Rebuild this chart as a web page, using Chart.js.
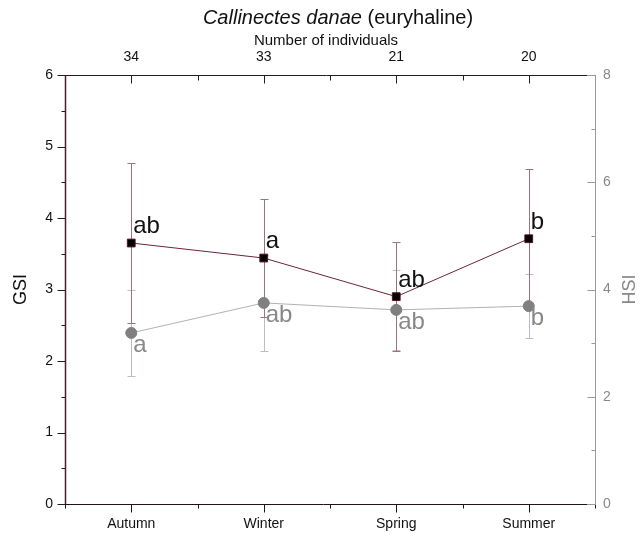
<!DOCTYPE html>
<html><head><meta charset="utf-8">
<script src="https://cdn.jsdelivr.net/npm/chart.js@4.4.1/dist/chart.umd.min.js"></script>
<style>html,body{margin:0;padding:0;background:#fff}#wrap{width:644px;height:540px}</style>
</head><body><div id="wrap"><canvas id="c" width="644" height="540"></canvas></div>
<script>
const seasons = ['Autumn', 'Winter', 'Spring', 'Summer'];
const nIndividuals = ['34', '33', '21', '20'];
const gsi = [3.65, 3.44, 2.90, 3.71];
const gsiErr = [1.12, 0.83, 0.76, 0.97];
const hsi = [3.19, 3.75, 3.62, 3.69];
const hsiErr = [0.80, 0.90, 0.75, 0.60];
const gsiLetters = ['ab', 'a', 'ab', 'b'];
const hsiLetters = ['a', 'ab', 'ab', 'b'];
const gsiTicks = [0, 1, 2, 3, 4, 5, 6];
const hsiTicks = [0, 2, 4, 6, 8];

const FONT = "'Liberation Sans', Arial, sans-serif";
const catTicks = seasons.map((s, i) => ({ value: i + 1 }));

const overlay = {
  id: 'overlay',
  beforeDatasetsDraw(chart) {
    const { ctx, scales } = chart;
    const xs = scales.x;
    ctx.save();
    function bar(xv, lo, hi, scale, color) {
      const px = Math.round(xs.getPixelForValue(xv)) + 0.5;
      const a = Math.round(scale.getPixelForValue(lo)) + 0.5;
      const b = Math.round(scale.getPixelForValue(hi)) + 0.5;
      ctx.strokeStyle = color; ctx.lineWidth = 1;
      ctx.beginPath();
      ctx.moveTo(px, a); ctx.lineTo(px, b);
      ctx.moveTo(px - 4, a); ctx.lineTo(px + 4, a);
      ctx.moveTo(px - 4, b); ctx.lineTo(px + 4, b);
      ctx.stroke();
    }
    hsi.forEach((v, i) => bar(i + 1, v - hsiErr[i], v + hsiErr[i], scales.y2, '#c4b8c8'));
    gsi.forEach((v, i) => bar(i + 1, v - gsiErr[i], v + gsiErr[i], scales.y, '#a07080'));
    ctx.restore();
  },
  afterDatasetsDraw(chart) {
    const { ctx, scales } = chart;
    ctx.save();
    ctx.font = '24px ' + FONT;
    ctx.textAlign = 'left';
    ctx.textBaseline = 'alphabetic';
    gsi.forEach((v, i) => {
      ctx.fillStyle = '#111';
      ctx.fillText(gsiLetters[i], scales.x.getPixelForValue(i + 1) + 2, scales.y.getPixelForValue(v) - 10);
    });
    hsi.forEach((v, i) => {
      ctx.fillStyle = '#888';
      ctx.fillText(hsiLetters[i], scales.x.getPixelForValue(i + 1) + 2, scales.y2.getPixelForValue(v) + 19);
    });
    ctx.restore();
  },
  afterDraw(chart) {
    const { ctx, chartArea: ca, scales } = chart;
    const L = ca.left + 0.5, R = ca.right + 0.5, T = ca.top + 0.5, B = ca.bottom + 0.5;
    ctx.save();
    ctx.lineWidth = 1;
    // top axis
    ctx.strokeStyle = '#2a1a1e';
    ctx.beginPath(); ctx.moveTo(L, T); ctx.lineTo(R - 8, T); ctx.stroke();
    ctx.strokeStyle = '#999';
    ctx.beginPath(); ctx.moveTo(R - 8, T); ctx.lineTo(R, T); ctx.stroke();
    ctx.strokeStyle = '#2a1a1e';
    ctx.beginPath();
    for (let v = 0.5; v <= 4.5; v += 0.5) {
      const px = Math.round(scales.x2.getPixelForValue(v)) + 0.5;
      const len = Number.isInteger(v) ? 8 : 5;
      ctx.moveTo(px, T); ctx.lineTo(px, T + len);
    }
    ctx.stroke();
    // bottom axis
    ctx.strokeStyle = '#1e1418';
    ctx.beginPath(); ctx.moveTo(L - 6, B); ctx.lineTo(R - 8, B); ctx.stroke();
    ctx.beginPath();
    for (let v = 0.5; v <= 4.5; v += 0.5) {
      const px = Math.round(scales.x.getPixelForValue(v)) + 0.5;
      const len = Number.isInteger(v) ? 8 : 4;
      ctx.moveTo(px, B); ctx.lineTo(px, B + len);
    }
    ctx.stroke();
    ctx.strokeStyle = '#999';
    ctx.beginPath(); ctx.moveTo(R - 8, B); ctx.lineTo(R, B); ctx.stroke();
    // left axis
    ctx.strokeStyle = '#4a1e2a';
    ctx.lineWidth = 1.5;
    ctx.beginPath(); ctx.moveTo(L, T); ctx.lineTo(L, B); ctx.stroke();
    ctx.lineWidth = 1;
    ctx.strokeStyle = '#2a1a1e';
    ctx.beginPath();
    for (let v = 0; v <= 6; v += 0.5) {
      const py = Math.round(scales.y.getPixelForValue(v)) + 0.5;
      const len = Number.isInteger(v) ? 8 : 4;
      ctx.moveTo(L - len, py); ctx.lineTo(L, py);
    }
    ctx.stroke();
    // right axis
    ctx.strokeStyle = '#999';
    ctx.beginPath(); ctx.moveTo(R, T); ctx.lineTo(R, B); ctx.stroke();
    ctx.beginPath();
    for (let v = 0; v <= 8; v += 1) {
      const py = Math.round(scales.y2.getPixelForValue(v)) + 0.5;
      const len = v % 2 === 0 ? 8 : 4;
      ctx.moveTo(R - len, py); ctx.lineTo(R, py);
    }
    ctx.stroke();
    // titles
    const cx = (ca.left + ca.right) / 2 + 8;
    ctx.fillStyle = '#111';
    ctx.textBaseline = 'middle';
    const t1 = 'Callinectes danae', t2 = ' (euryhaline)';
    ctx.font = 'italic 20px ' + FONT;
    const w1 = ctx.measureText(t1).width;
    ctx.font = '20px ' + FONT;
    const w2 = ctx.measureText(t2).width;
    const x0 = cx - (w1 + w2) / 2;
    ctx.textAlign = 'left';
    ctx.font = 'italic 20px ' + FONT;
    ctx.fillText(t1, x0, 18);
    ctx.font = '20px ' + FONT;
    ctx.fillText(t2, x0 + w1, 18);
    ctx.textAlign = 'center';
    ctx.font = '15px ' + FONT;
    ctx.fillText('Number of individuals', (ca.left + ca.right) / 2 - 4, 41);
    // GSI
    ctx.save();
    ctx.translate(21, (ca.top + ca.bottom) / 2);
    ctx.rotate(-Math.PI / 2);
    ctx.font = '18px ' + FONT;
    ctx.fillStyle = '#111';
    ctx.fillText('GSI', 0, 0);
    ctx.restore();
    // HSI
    ctx.save();
    ctx.translate(630, (ca.top + ca.bottom) / 2);
    ctx.rotate(-Math.PI / 2);
    ctx.font = '18px ' + FONT;
    ctx.fillStyle = '#888';
    ctx.fillText('HSI', 0, 0);
    ctx.restore();
    ctx.restore();
  }
};

const hidden = { display: false, drawTicks: false };
new Chart(document.getElementById('c'), {
  type: 'scatter',
  data: {
    datasets: [
      {
        label: 'GSI',
        data: seasons.map((s, i) => ({ x: i + 1, y: gsi[i] })),
        xAxisID: 'x', yAxisID: 'y',
        showLine: true,
        borderColor: '#6b2437', borderWidth: 1,
        pointStyle: 'rect', pointRadius: 5.5,
        pointBackgroundColor: '#000', pointBorderColor: '#5a1020', pointBorderWidth: 1
      },
      {
        label: 'HSI',
        data: seasons.map((s, i) => ({ x: i + 1, y: hsi[i] })),
        xAxisID: 'x', yAxisID: 'y2',
        showLine: true,
        borderColor: '#b4b0b4', borderWidth: 1,
        pointStyle: 'circle', pointRadius: 5.5,
        pointBackgroundColor: '#808080', pointBorderColor: '#808080', pointBorderWidth: 1
      }
    ]
  },
  options: {
    responsive: false, animation: false, devicePixelRatio: 1,
    layout: { padding: 0 },
    plugins: { legend: { display: false }, tooltip: { enabled: false }, title: { display: false } },
    scales: {
      x: {
        type: 'linear', position: 'bottom', min: 0.5, max: 4.5,
        grid: hidden, border: { display: false },
        afterBuildTicks: s => { s.ticks = catTicks.map(t => ({ value: t.value })); },
        afterFit: s => { s.height = 36; },
        ticks: { padding: 12, color: '#111', font: { family: FONT, size: 14 }, maxRotation: 0,
          callback: v => seasons[v - 1] ?? '' }
      },
      x2: {
        type: 'linear', position: 'top', min: 0.5, max: 4.5,
        grid: hidden, border: { display: false },
        afterBuildTicks: s => { s.ticks = catTicks.map(t => ({ value: t.value })); },
        afterFit: s => { s.height = 75; },
        ticks: { padding: 9, color: '#111', font: { family: FONT, size: 14 }, maxRotation: 0,
          callback: v => nIndividuals[v - 1] ?? '' }
      },
      y: {
        type: 'linear', position: 'left', min: 0, max: 6,
        grid: hidden, border: { display: false },
        afterBuildTicks: s => { s.ticks = gsiTicks.map(v => ({ value: v })); },
        afterFit: s => { s.width = 65; },
        ticks: { padding: 12, color: '#111', font: { family: FONT, size: 14 } }
      },
      y2: {
        type: 'linear', position: 'right', min: 0, max: 8,
        grid: hidden, border: { display: false },
        afterBuildTicks: s => { s.ticks = hsiTicks.map(v => ({ value: v })); },
        afterFit: s => { s.width = 49; },
        ticks: { padding: 8, color: '#888', font: { family: FONT, size: 14 } }
      }
    }
  },
  plugins: [overlay]
});
</script>
</body></html>
